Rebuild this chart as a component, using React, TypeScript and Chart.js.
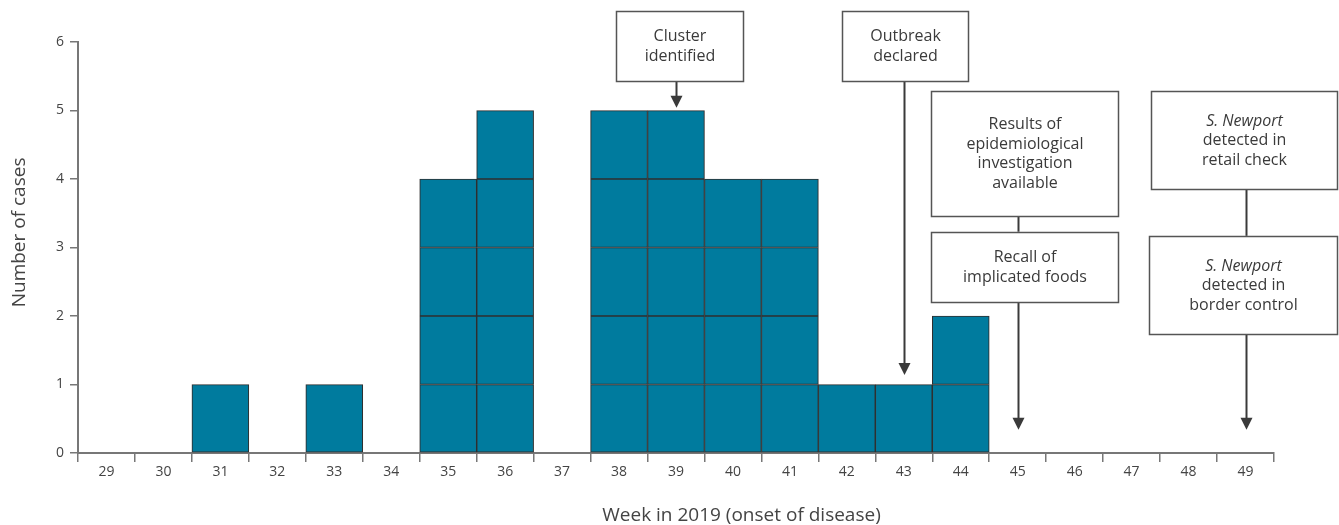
import React, { useEffect, useRef } from 'react';
import { Chart, registerables } from 'chart.js';

Chart.register(...registerables);

// ---- data ----
const weeks = ['29', '30', '31', '32', '33', '34', '35', '36', '37', '38', '39', '40', '41', '42', '43', '44', '45', '46', '47', '48', '49'];
const cases = [0, 0, 1, 0, 1, 0, 4, 5, 0, 5, 5, 4, 4, 1, 1, 2, 0, 0, 0, 0, 0];
const yMax = 6;
const xTitle = 'Week in 2019 (onset of disease)';
const yTitle = 'Number of cases';

// annotation boxes: text lines (italic flag), x-extent in category units from axis start, y-extent in data units
const boxTexts: [string, boolean][][] = [
  [['Cluster', false], ['identified', false]],
  [['Outbreak', false], ['declared', false]],
  [['Results of', false], ['epidemiological', false], ['investigation', false], ['available', false]],
  [['Recall of', false], ['implicated foods', false]],
  [['S. Newport', true], ['detected in', false], ['retail check', false]],
  [['S. Newport', true], ['detected in', false], ['border control', false]],
];
const boxX0 = [9.44, 13.42, 14.98, 14.98, 18.84, 18.81];
const boxX1 = [11.68, 15.63, 18.26, 18.26, 22.1, 22.1];
const boxYTop = [6.45, 6.45, 5.28, 3.23, 5.28, 3.17];
const boxYBot = [5.43, 5.43, 3.46, 2.2, 3.85, 1.74];
// connectors: week index, from value, to value, arrow head
const linkIdx = [10, 14, 16, 16, 20, 20];
const linkFrom = [5.43, 5.43, 3.46, 2.2, 3.85, 1.74];
const linkTo = [5.04, 1.14, 3.23, 0.34, 3.17, 0.34];
const linkArrow = [true, true, false, true, false, true];

const FONT = '"Open Sans", Lato, sans-serif';

const annotationPlugin = {
  id: 'annotBoxes',
  afterDraw(chart: any) {
    const ctx = chart.ctx;
    const xs = chart.scales.x;
    const ys = chart.scales.y;
    const cw = (xs.right - xs.left) / weeks.length;
    const px = (c: number) => xs.left + c * cw;
    const py = (v: number) => ys.getPixelForValue(v);
    ctx.save();
    // axis titles (off-centre as in the original)
    ctx.fillStyle = '#444444';
    ctx.font = `19px ${FONT}`;
    ctx.textAlign = 'center';
    ctx.textBaseline = 'alphabetic';
    ctx.fillText(xTitle, px(11.65), chart.height - 4);
    ctx.save();
    ctx.translate(25, py(3.22));
    ctx.rotate(-Math.PI / 2);
    ctx.fillText(yTitle, 0, 0);
    ctx.restore();
    // connectors
    for (let i = 0; i < linkIdx.length; i++) {
      const x = Math.round(xs.getPixelForValue(linkIdx[i])) + 0.5;
      const y0 = py(linkFrom[i]);
      const y1 = py(linkTo[i]);
      ctx.strokeStyle = '#3a3a3a';
      ctx.lineWidth = 2;
      ctx.beginPath();
      ctx.moveTo(x, y0);
      ctx.lineTo(x, linkArrow[i] ? y1 - 8 : y1);
      ctx.stroke();
      if (linkArrow[i]) {
        ctx.fillStyle = '#3a3a3a';
        ctx.beginPath();
        ctx.moveTo(x - 6, y1 - 12);
        ctx.lineTo(x + 6, y1 - 12);
        ctx.lineTo(x, y1);
        ctx.closePath();
        ctx.fill();
      }
    }
    // boxes
    for (let i = 0; i < boxTexts.length; i++) {
      const x0 = Math.round(px(boxX0[i])) + 0.5;
      const x1 = Math.min(Math.round(px(boxX1[i])) + 0.5, chart.width - 1);
      const y0 = Math.round(py(boxYTop[i])) + 0.5;
      const y1 = Math.round(py(boxYBot[i])) + 0.5;
      ctx.fillStyle = '#ffffff';
      ctx.fillRect(x0, y0, x1 - x0, y1 - y0);
      ctx.strokeStyle = '#555555';
      ctx.lineWidth = 1.5;
      ctx.strokeRect(x0, y0, x1 - x0, y1 - y0);
      const lines = boxTexts[i];
      const lh = 19.5;
      const cx = (x0 + x1) / 2;
      const cy = (y0 + y1) / 2;
      const startY = cy - ((lines.length - 1) * lh) / 2;
      ctx.fillStyle = '#3a3a3a';
      ctx.textAlign = 'center';
      ctx.textBaseline = 'middle';
      lines.forEach(([t, it], j) => {
        ctx.font = `${it ? 'italic ' : ''}16px ${FONT}`;
        ctx.fillText(t, cx, startY + j * lh);
      });
    }
    ctx.restore();
  },
};

export default function App() {
  const ref = useRef<HTMLCanvasElement | null>(null);
  useEffect(() => {
    document.body.style.margin = '0';
    if (!ref.current) return;
    const datasets = [];
    for (let k = 1; k <= yMax; k++) {
      datasets.push({
        label: 'level ' + k,
        data: cases.map((c) => (c >= k ? 1 : null)),
        backgroundColor: '#007b9e',
        borderColor: '#2f2f2f',
        borderWidth: 1.1,
        borderSkipped: false,
        barPercentage: 1,
        categoryPercentage: 1,
      });
    }
    const chart = new Chart(ref.current, {
      type: 'bar',
      data: { labels: weeks, datasets },
      plugins: [annotationPlugin],
      options: {
        animation: false,
        responsive: false,
        layout: { padding: { top: 42, right: 65, left: 0, bottom: 0 } },
        plugins: { legend: { display: false }, tooltip: { enabled: false } },
        scales: {
          x: {
            stacked: true,
            afterFit: (s: any) => { s.height = 72; },
            grid: { display: true, drawOnChartArea: false, drawTicks: true, tickLength: 9, color: '#777777', lineWidth: 1.5 },
            border: { display: true, color: '#777777', width: 2 },
            ticks: { color: '#444444', font: { family: FONT, size: 14 }, padding: 2, autoSkip: false, maxRotation: 0 },
            title: { display: false },
          },
          y: {
            stacked: true,
            min: 0,
            max: yMax,
            afterFit: (s: any) => { s.width = 78; },
            grid: { display: true, drawOnChartArea: false, drawTicks: true, tickLength: 8, color: '#777777', lineWidth: 1.5 },
            border: { display: true, color: '#777777', width: 2 },
            ticks: { stepSize: 1, color: '#444444', font: { family: FONT, size: 14 }, padding: 6 },
            title: { display: false },
          },
        },
      },
    } as any);
    return () => chart.destroy();
  }, []);
  return (
    <div style={{ position: 'fixed', left: 0, top: 0, width: 1339, height: 525 }}>
      <canvas ref={ref} width={1339} height={525} style={{ display: 'block' }} />
    </div>
  );
}
